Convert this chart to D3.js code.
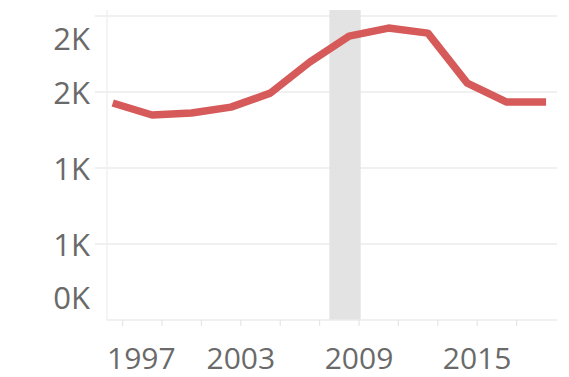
<!DOCTYPE html>
<html>
<head>
<meta charset="utf-8">
<script src="https://cdn.jsdelivr.net/npm/d3@7"></script>
<style>
  html, body { margin: 0; padding: 0; background: #fff; }
  svg { display: block; }
  text { font-family: "Open Sans", "Noto Sans", sans-serif; fill: #6a6a6a; }
</style>
</head>
<body>
<svg id="chart" width="569" height="377"></svg>
<script>
// ---- data ----
const years = [1996, 1998, 2000, 2002, 2004, 2006, 2008, 2010, 2012, 2014, 2016, 2018];
const values = [1428, 1349, 1362, 1401, 1493, 1697, 1868, 1921, 1888, 1559, 1434, 1434];
const recessionStart = [2007, 6, 1];
const recessionEnd = [2009, 1, 1];
const yTicks = [0, 500, 1000, 1500, 2000];
const xTickYears = [1997, 1999, 2001, 2003, 2005, 2007, 2009, 2011, 2013, 2015, 2017];
const xLabelYears = [1997, 2003, 2009, 2015];

// ---- layout ----
const W = 569, H = 377;
const mLeft = 107, mRight = 557, mTop = 10, mBottom = 320;
const svg = d3.select("#chart");

const x = d3.scaleTime()
  .domain([new Date(1996, 2, 17), new Date(2019, 0, 20)])
  .range([mLeft, mRight]);
const y = d3.scaleLinear()
  .domain([0, 2040])
  .range([mBottom, mTop]);

const fmt = v => d3.format(".0f")(v / 1000) + "K";

// gridlines
svg.append("g").selectAll("line")
  .data(yTicks.filter(v => v > 0))
  .join("line")
  .attr("x1", 95).attr("x2", mRight)
  .attr("y1", d => y(d)).attr("y2", d => y(d))
  .attr("stroke", "#ebebeb").attr("stroke-width", 1.5);

// recession band
svg.append("rect")
  .attr("x", x(new Date(...recessionStart)))
  .attr("width", x(new Date(...recessionEnd)) - x(new Date(...recessionStart)))
  .attr("y", mTop)
  .attr("height", mBottom - mTop)
  .attr("fill", "#e3e3e3");

// axis lines
svg.append("line")
  .attr("x1", mLeft).attr("x2", mLeft).attr("y1", mTop).attr("y2", mBottom)
  .attr("stroke", "#f0f0f0").attr("stroke-width", 1.5);
svg.append("line")
  .attr("x1", mLeft).attr("x2", mRight).attr("y1", mBottom).attr("y2", mBottom)
  .attr("stroke", "#ebebeb").attr("stroke-width", 1.5);

// x tick marks
svg.append("g").selectAll("line")
  .data(xTickYears)
  .join("line")
  .attr("x1", d => x(new Date(d, 0, 1))).attr("x2", d => x(new Date(d, 0, 1)))
  .attr("y1", mBottom).attr("y2", mBottom + 6)
  .attr("stroke", "#e6e6e6").attr("stroke-width", 1.2);

// y labels (clamped inside plot like the reference)
svg.append("g").selectAll("text")
  .data(yTicks)
  .join("text")
  .attr("x", 90)
  .attr("y", d => Math.max(mTop + 28, Math.min(mBottom - 23, y(d))))
  .attr("text-anchor", "end")
  .attr("dominant-baseline", "central")
  .attr("font-size", 31)
  .text(fmt);

// x labels
const xl = svg.append("g").selectAll("text")
  .data(xLabelYears)
  .join("text")
  .attr("y", 369)
  .attr("text-anchor", "middle")
  .attr("font-size", 30)
  .text(d => d);
xl.each(function(d) {
  const w = this.getComputedTextLength();
  let cx = x(new Date(d, 0, 1));
  cx = Math.max(mLeft + w / 2, cx);
  d3.select(this).attr("x", cx);
});

// line
const pts = years.map((yr, i) => ({ date: new Date(yr, 6, 1), value: values[i] }));
svg.append("path")
  .datum(pts)
  .attr("fill", "none")
  .attr("stroke", "#d65a5a")
  .attr("stroke-width", 7.5)
  .attr("stroke-linejoin", "round")
  .attr("stroke-linecap", "butt")
  .attr("d", d3.line().x(d => x(d.date)).y(d => y(d.value)));
</script>
</body>
</html>
